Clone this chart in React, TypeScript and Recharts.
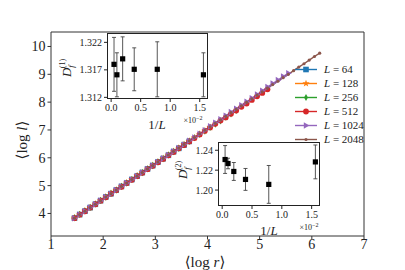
import React from "react";
import {
  LineChart,
  Line,
  XAxis,
  YAxis,
  ReferenceArea,
  ScatterChart,
  Scatter,
  ErrorBar,
} from "recharts";

const FONT = "Liberation Serif, DejaVu Serif, serif";
const AXIS = "#333";

// <log r> grid shared by all system sizes
const logR = [
  1.45, 1.55, 1.65, 1.75, 1.85, 1.95, 2.05, 2.15, 2.25, 2.35, 2.45, 2.55,
  2.65, 2.75, 2.85, 2.95, 3.05, 3.15, 3.25, 3.35, 3.45, 3.55, 3.65, 3.75,
  3.85, 3.95, 4.05, 4.15, 4.25, 4.35, 4.45, 4.55, 4.65, 4.75, 4.85, 4.95,
  5.05, 5.15, 5.25, 5.35, 5.45, 5.55, 5.65, 5.75, 5.85, 5.95, 6.05, 6.15,
];

// <log l> for each L
const yL64 = [
  3.83, 3.96, 4.08, 4.21, 4.33, 4.46, 4.59, 4.71, 4.84, 4.97, 5.09, 5.22,
  5.34, 5.47, 5.6, 5.72, 5.85, 5.97, 6.09, 6.22, 6.34, 6.46, 6.59,
];
const yL128 = [
  3.84, 3.96, 4.09, 4.21, 4.34, 4.46, 4.59, 4.72, 4.84, 4.97, 5.1, 5.22,
  5.35, 5.47, 5.6, 5.73, 5.85, 5.98, 6.1, 6.23, 6.35, 6.48, 6.6, 6.72, 6.85,
  6.97, 7.09,
];
const yL256 = [
  3.84, 3.97, 4.09, 4.22, 4.34, 4.47, 4.59, 4.72, 4.84, 4.97, 5.09, 5.22,
  5.35, 5.47, 5.6, 5.72, 5.85, 5.97, 6.1, 6.22, 6.34, 6.47, 6.59, 6.72, 6.84,
  6.96, 7.09, 7.21, 7.33, 7.46, 7.58, 7.7,
];
const yL512 = [
  3.83, 3.96, 4.08, 4.21, 4.33, 4.46, 4.58, 4.71, 4.84, 4.96, 5.09, 5.21,
  5.34, 5.46, 5.59, 5.71, 5.84, 5.96, 6.09, 6.21, 6.34, 6.46, 6.59, 6.71,
  6.84, 6.97, 7.09, 7.22, 7.34, 7.45, 7.58, 7.7, 7.83, 7.95, 8.08, 8.21, 8.33,
  8.46,
];
const yL1024 = [
  3.83, 3.96, 4.08, 4.21, 4.33, 4.46, 4.59, 4.71, 4.84, 4.97, 5.09, 5.22,
  5.34, 5.47, 5.6, 5.72, 5.85, 5.98, 6.1, 6.23, 6.35, 6.48, 6.61, 6.73, 6.86,
  6.99, 7.13, 7.26, 7.38, 7.51, 7.64, 7.76, 7.89, 8.01, 8.14, 8.27, 8.41,
  8.54, 8.67, 8.79, 8.92, 9.04,
];
const yL2048 = [
  3.83, 3.96, 4.08, 4.21, 4.33, 4.46, 4.59, 4.71, 4.84, 4.97, 5.09, 5.22,
  5.34, 5.47, 5.6, 5.72, 5.85, 5.98, 6.1, 6.23, 6.35, 6.48, 6.61, 6.73, 6.86,
  6.99, 7.11, 7.24, 7.36, 7.49, 7.62, 7.74, 7.87, 7.99, 8.12, 8.25, 8.37, 8.5,
  8.63, 8.75, 8.88, 9.0, 9.13, 9.26, 9.38, 9.51, 9.64, 9.76,
];

const sizes = ["64", "128", "256", "512", "1024", "2048"];
const colors = ["#1f77b4", "#ff7f0e", "#2ca02c", "#d62728", "#9467bd", "#8c564b"];
const markers = ["square", "star", "diamond", "circle", "triangle", "point"];
const seriesY = [yL64, yL128, yL256, yL512, yL1024, yL2048];

const xTicks = [1, 2, 3, 4, 5, 6, 7];
const yTicks = [4, 5, 6, 7, 8, 9, 10];

// insets: 1/L (x 10^-2) and fractal dimensions
const invL = [0.0488, 0.0977, 0.195, 0.391, 0.781, 1.5625];
const df1 = [1.318, 1.3161, 1.319, 1.3171, 1.3171, 1.3161];
const df1Err = [0.0049, 0.004, 0.004, 0.0039, 0.005, 0.004];
const df2 = [1.2307, 1.2267, 1.2187, 1.2107, 1.2057, 1.2283];
const df2Err = [0.014, 0.0053, 0.009, 0.011, 0.019, 0.017];
const insetXTicks = [0, 0.5, 1, 1.5];
const df1Ticks = [1.312, 1.317, 1.322];
const df2Ticks = [1.2, 1.22, 1.24];

function starPath(cx: number, cy: number, R: number, r: number) {
  let d = "";
  for (let i = 0; i < 10; i++) {
    const a = (-90 + i * 36) * (Math.PI / 180);
    const rad = i % 2 === 0 ? R : r;
    d += (i === 0 ? "M" : "L") + (cx + rad * Math.cos(a)) + "," + (cy + rad * Math.sin(a));
  }
  return d + "Z";
}

function Marker({ kind, cx, cy, color }: { kind: string; cx: number; cy: number; color: string }) {
  switch (kind) {
    case "square":
      return <rect x={cx - 2.8} y={cy - 2.8} width={5.6} height={5.6} fill={color} />;
    case "star":
      return <path d={starPath(cx, cy, 3.8, 1.6)} fill={color} />;
    case "diamond":
      return <path d={`M${cx},${cy - 3.6}L${cx + 2},${cy}L${cx},${cy + 3.6}L${cx - 2},${cy}Z`} fill={color} />;
    case "circle":
      return <circle cx={cx} cy={cy} r={2.9} fill={color} />;
    case "triangle":
      return <path d={`M${cx + 3.4},${cy}L${cx - 2.2},${cy - 3.3}L${cx - 2.2},${cy + 3.3}Z`} fill={color} />;
    default:
      return <circle cx={cx} cy={cy} r={1.6} fill={color} />;
  }
}

const tickMain = { fontFamily: FONT, fontSize: 14, fill: "#222" };
const tickInset = { fontFamily: FONT, fontSize: 10, fill: "#222" };

function Inset({
  left,
  top,
  yAxisWidth,
  plotW,
  plotH,
  ys,
  errs,
  yDomain,
  yTicks: yt,
  digits,
}: {
  left: number;
  top: number;
  yAxisWidth: number;
  plotW: number;
  plotH: number;
  ys: number[];
  errs: number[];
  yDomain: [number, number];
  yTicks: number[];
  digits: number;
}) {
  const data = invL.map((x, i) => ({ x, y: ys[i], err: errs[i] }));
  const mTop = 5;
  const xH = 20;
  return (
    <>
      <div
        style={{
          position: "absolute",
          left: left + yAxisWidth,
          top: top + mTop,
          width: plotW,
          height: plotH,
          background: "#fff",
          border: "1px solid #222",
          boxSizing: "border-box",
        }}
      />
      <div style={{ position: "absolute", left, top }}>
        <ScatterChart
          width={yAxisWidth + plotW + 4}
          height={mTop + plotH + xH}
          margin={{ top: mTop, right: 4, bottom: 0, left: 0 }}
        >
          <XAxis
            type="number"
            dataKey="x"
            domain={[-0.07, 1.64]}
            ticks={insetXTicks}
            allowDataOverflow
            tickFormatter={(v: number) => v.toFixed(1)}
            tick={tickInset}
            tickSize={3}
            height={xH}
            axisLine={false}
            stroke="#222"
          />
          <YAxis
            type="number"
            dataKey="y"
            domain={yDomain}
            ticks={yt}
            allowDataOverflow
            tickFormatter={(v: number) => v.toFixed(digits)}
            tick={tickInset}
            tickSize={3}
            width={yAxisWidth}
            axisLine={false}
            stroke="#222"
          />
          <Scatter
            data={data}
            dataKey="y"
            isAnimationActive={false}
            shape={(p: any) => (
              <rect x={p.cx - 2.6} y={p.cy - 2.6} width={5.2} height={5.2} fill="#000" />
            )}
          >
            <ErrorBar dataKey="err" direction="y" width={2} stroke="#444" strokeWidth={0.9} />
          </Scatter>
        </ScatterChart>
      </div>
    </>
  );
}

export default function App() {
  const series = seriesY.map((ys) => logR.slice(0, ys.length).map((x, i) => ({ x, y: ys[i] })));

  return (
    <div style={{ position: "absolute", left: 0, top: 0, width: 405, height: 270, background: "#fff" }}>
      <div style={{ position: "absolute", left: 0, top: 0 }}>
        <LineChart width={405} height={270} margin={{ top: 32, right: 41, bottom: 0, left: 0 }}>
          <XAxis
            type="number"
            dataKey="x"
            domain={[1, 7]}
            ticks={xTicks}
            allowDataOverflow
            tick={tickMain}
            tickSize={3.5}
            tickMargin={0}
            height={34}
            axisLine={false}
            stroke={AXIS}
          />
          <YAxis
            type="number"
            dataKey="y"
            domain={[3.19, 10.52]}
            ticks={yTicks}
            allowDataOverflow
            tick={tickMain}
            tickSize={3.5}
            width={51}
            axisLine={false}
            stroke={AXIS}
          />
          <ReferenceArea x1={1} x2={7} y1={3.19} y2={10.52} fill="none" stroke={AXIS} strokeWidth={1} fillOpacity={0} />
          {series.map((d, si) => (
            <Line
              key={sizes[si]}
              data={d}
              dataKey="y"
              stroke={colors[si]}
              strokeWidth={1.4}
              isAnimationActive={false}
              dot={(p: any) => (
                <Marker key={`${sizes[si]}-${p.index}`} kind={markers[si]} cx={p.cx} cy={p.cy} color={colors[si]} />
              )}
              activeDot={false}
            />
          ))}
        </LineChart>
      </div>

      <Inset
        left={50}
        top={28}
        yAxisWidth={57}
        plotW={101}
        plotH={66}
        ys={df1}
        errs={df1Err}
        yDomain={[1.3117, 1.3237]}
        yTicks={df1Ticks}
        digits={3}
      />
      <Inset
        left={170}
        top={137}
        yAxisWidth={48}
        plotW={102}
        plotH={64}
        ys={df2}
        errs={df2Err}
        yDomain={[1.184, 1.2483]}
        yTicks={df2Ticks}
        digits={2}
      />

      <svg
        width={405}
        height={270}
        style={{ position: "absolute", left: 0, top: 0, pointerEvents: "none", fontFamily: FONT }}
        fill="#222"
      >
        {/* main axis labels */}
        <text x={205} y={267} fontSize={15} textAnchor="middle">
          ⟨log <tspan fontStyle="italic">r</tspan>⟩
        </text>
        <text x={0} y={0} fontSize={15} textAnchor="middle" transform="translate(27,140) rotate(-90)">
          ⟨log <tspan fontStyle="italic">l</tspan>⟩
        </text>

        {/* inset 1 labels */}
        <text x={0} y={0} fontSize={13} textAnchor="middle" transform="translate(71,68) rotate(-90)">
          <tspan fontStyle="italic">D</tspan>
          <tspan fontStyle="italic" fontSize={9} dy={3}>f</tspan>
          <tspan fontSize={8} dy={-9} dx={-3}>(1)</tspan>
        </text>
        <text x={157} y={129} fontSize={13} textAnchor="middle">
          1/<tspan fontStyle="italic">L</tspan>
        </text>
        <text x={193} y={123} fontSize={8} textAnchor="middle">
          ×10<tspan fontSize={6} dy={-3}>−2</tspan>
        </text>

        {/* inset 2 labels */}
        <text x={0} y={0} fontSize={13} textAnchor="middle" transform="translate(187,170) rotate(-90)">
          <tspan fontStyle="italic">D</tspan>
          <tspan fontStyle="italic" fontSize={9} dy={3}>f</tspan>
          <tspan fontSize={8} dy={-9} dx={-3}>(2)</tspan>
        </text>
        <text x={269} y={235} fontSize={13} textAnchor="middle">
          1/<tspan fontStyle="italic">L</tspan>
        </text>
        <text x={309} y={230} fontSize={8} textAnchor="middle">
          ×10<tspan fontSize={6} dy={-3}>−2</tspan>
        </text>

        {/* legend */}
        {sizes.map((s, i) => {
          const y = 69.5 + i * 14;
          return (
            <g key={s}>
              <line x1={295} x2={317} y1={y} y2={y} stroke={colors[i]} strokeWidth={1.4} />
              <Marker kind={markers[i]} cx={306} cy={y} color={colors[i]} />
              <text x={324} y={y + 3.5} fontSize={11}>
                <tspan fontStyle="italic">L</tspan> = {s}
              </text>
            </g>
          );
        })}
      </svg>
    </div>
  );
}
